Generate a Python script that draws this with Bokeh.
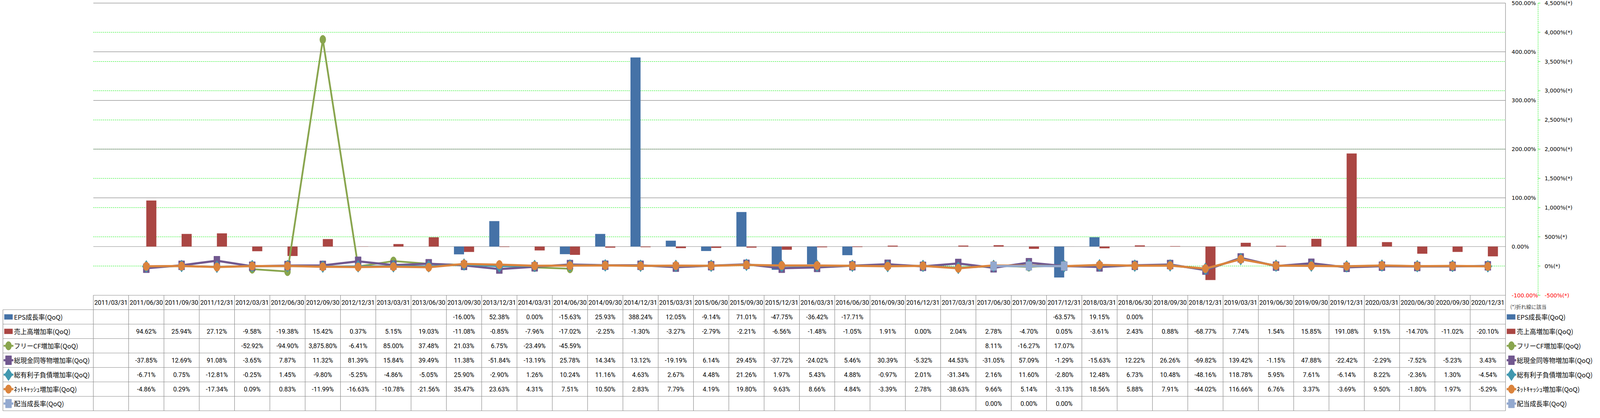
import numpy as np
from bokeh.plotting import figure
from bokeh.models import Range1d, ColumnDataSource
from bokeh.core.properties import value
from bokeh.embed import file_html
from bokeh.resources import INLINE

# ---------------- data ----------------
dates = ["2011/03/31", "2011/06/30", "2011/09/30", "2011/12/31",
         "2012/03/31", "2012/06/30", "2012/09/30", "2012/12/31",
         "2013/03/31", "2013/06/30", "2013/09/30", "2013/12/31",
         "2014/03/31", "2014/06/30", "2014/09/30", "2014/12/31",
         "2015/03/31", "2015/06/30", "2015/09/30", "2015/12/31",
         "2016/03/31", "2016/06/30", "2016/09/30", "2016/12/31",
         "2017/03/31", "2017/06/30", "2017/09/30", "2017/12/31",
         "2018/03/31", "2018/06/30", "2018/09/30", "2018/12/31",
         "2019/03/31", "2019/06/30", "2019/09/30", "2019/12/31",
         "2020/03/31", "2020/06/30", "2020/09/30", "2020/12/31"]

eps = [None, None, None, None, None, None, None, None, None, None,
       -16.00, 52.38, 0.00, -15.63, 25.93, 388.24, 12.05, -9.14, 71.01, -47.75,
       -36.42, -17.71, None, None, None, None, None, -63.57, 19.15, 0.00,
       None, None, None, None, None, None, None, None, None, None]

sales = [None, 94.62, 25.94, 27.12, -9.58, -19.38, 15.42, 0.37, 5.15, 19.03,
         -11.08, -0.85, -7.96, -17.02, -2.25, -1.30, -3.27, -2.79, -2.21, -6.56,
         -1.48, -1.05, 1.91, 0.00, 2.04, 2.78, -4.70, 0.05, -3.61, 2.43,
         0.88, -68.77, 7.74, 1.54, 15.85, 191.08, 9.15, -14.70, -11.02, -20.10]

fcf = [None, None, None, None, -52.92, -94.90, 3875.80, -6.41, 85.00, 37.48,
       21.03, 6.75, -23.49, -45.59, None, None, None, None, None, None,
       None, None, None, None, None, 8.11, -16.27, 17.07, None, None,
       None, None, None, None, None, None, None, None, None, None]

cash = [None, -37.85, 12.69, 91.08, -3.65, 7.87, 11.32, 81.39, 15.84, 39.49,
        11.38, -51.84, -13.19, 25.78, 14.34, 13.12, -19.19, 6.14, 29.45, -37.72,
        -24.02, 5.46, 30.39, -5.32, 44.53, -31.05, 57.09, -1.29, -15.63, 12.22,
        26.26, -69.82, 139.42, -1.15, 47.88, -22.42, -2.29, -7.52, -5.23, 3.43]

debt = [None, -6.71, 0.75, -12.81, -0.25, 1.45, -9.80, -5.25, -4.86, -5.05,
        25.90, -2.90, 1.26, 10.24, 11.16, 4.63, 2.67, 4.48, 21.26, 1.97,
        5.43, 4.88, -0.97, 2.01, -31.34, 2.16, 11.60, -2.80, 12.48, 6.73,
        10.48, -48.16, 118.78, 5.95, 7.61, -6.14, 8.22, -2.36, 1.30, -4.54]

netcash = [None, -4.86, 0.29, -17.34, 0.09, 0.83, -11.99, -16.63, -10.78, -21.56,
           35.47, 23.63, 4.31, 7.51, 10.50, 2.83, 7.79, 4.19, 19.80, 9.63,
           8.66, 4.84, -3.39, 2.78, -38.63, 9.66, 5.14, -3.13, 18.56, 5.88,
           7.91, -44.02, 116.66, 6.76, 3.37, -3.69, 9.50, -1.80, 1.97, -5.29]

dividend = [None, None, None, None, None, None, None, None, None, None,
            None, None, None, None, None, None, None, None, None, None,
            None, None, None, None, None, 0.00, 0.00, 0.00, None, None,
            None, None, None, None, None, None, None, None, None, None]

series_names = ["EPS成長率(QoQ)", "売上高増加率(QoQ)", "フリーCF増加率(QoQ)",
                "総現金同等物増加率(QoQ)", "総有利子負債増加率(QoQ)",
                "ﾈｯﾄｷｬｯｼｭ増加率(QoQ)", "配当成長率(QoQ)"]

main_ticks = [-100, 0, 100, 200, 300, 400, 500]
main_tick_labels = ["-100.00%", "0.00%", "100.00%", "200.00%", "300.00%", "400.00%", "500.00%"]
sec_ticks = [-500, 0, 500, 1000, 1500, 2000, 2500, 3000, 3500, 4000, 4500]
sec_tick_labels = ["-500%(*)", "0%(*)", "500%(*)", "1,000%(*)", "1,500%(*)", "2,000%(*)",
                   "2,500%(*)", "3,000%(*)", "3,500%(*)", "4,000%(*)", "4,500%(*)"]
note_text = "(*)折れ線に該当"

# ---------------- styles / layout ----------------
C_EPS, C_SALES = "#4572A7", "#AA4643"
C_FCF, C_CASH, C_DEBT, C_NET, C_DIV = "#89A54E", "#71588F", "#4198AF", "#DB843D", "#93A9CF"
GRID_GRAY = "#878787"
TABLE_GRAY = "#8C8C8C"
GREEN = "#00EE00"

# the page is shown 4096 px wide: map reference layout horizontally
K = 4096.0 / 5877.0


def fx(X):
    return X * K - 8.0


def fy(Y):
    return Y - 8.0


W, H = 4080, 1055
PL, PR = fx(353.6), fx(5540.67)   # plot frame left / right (canvas px)
PT, PB = fy(15.42), fy(764.0)     # y of 500% and -100% (canvas px)
N = len(dates)
UPX = (PR - PL) / N


def ux(px):
    return (px - PL) / UPX


MAIN_LO, MAIN_HI = -100.0, 500.0
SEC_LO, SEC_HI = -500.0, 4500.0
mppu = (PB - PT) / (MAIN_HI - MAIN_LO)
sppu = (PB - PT) / (SEC_HI - SEC_LO)
TT, RH = PB, 37.0

p = figure(width=W, height=H,
           x_range=Range1d(ux(0), ux(W)),
           y_range=Range1d(MAIN_LO - (H - PB) / mppu, MAIN_HI + PT / mppu),
           output_backend="svg", toolbar_location=None, min_border=0,
           x_axis_location=None, y_axis_location=None)
p.outline_line_color = None
p.background_fill_color = "white"
p.border_fill_color = "white"
p.grid.visible = False
p.extra_y_ranges = {
    "sec": Range1d(SEC_LO - (H - PB) / sppu, SEC_HI + PT / sppu),
    "tbl": Range1d(start=(H - TT) / RH, end=(0 - TT) / RH),
}


def arr(a):
    return np.array([np.nan if v is None else v for v in a], dtype=float)


idx = np.arange(N) + 0.5

# ---------------- gridlines ----------------
sec_grid = [t for t in sec_ticks if SEC_LO < t < SEC_HI]
p.segment(x0=0, x1=N, y0=sec_grid, y1=sec_grid, y_range_name="sec",
          line_color=GREEN, line_width=1, line_dash="3 2")
main_grid = [t for t in main_ticks if t > MAIN_LO]
p.segment(x0=0, x1=N, y0=main_grid, y1=main_grid, line_color=GRID_GRAY, line_width=1.2)
p.segment(x0=N, x1=N, y0=MAIN_LO, y1=MAIN_HI, line_color=GRID_GRAY, line_width=1.2)

# secondary axis line and ticks
ax2 = ux(fx(5660.3))
p.segment(x0=ax2, x1=ax2, y0=SEC_LO, y1=SEC_HI, y_range_name="sec",
          line_color=GREEN, line_width=1, line_dash="3 2")
p.segment(x0=ax2, x1=ux(fx(5668.7)), y0=sec_ticks, y1=sec_ticks, y_range_name="sec",
          line_color=GREEN, line_width=1)

# axis labels
AX_FONT = value("DejaVu Sans")
p.text(x=ux(fx(5563.3)), y=main_ticks, text=main_tick_labels,
       text_color=["#FF0000" if t == MAIN_LO else "#000000" for t in main_ticks],
       text_font=AX_FONT, text_font_size="14px", text_align="left", text_baseline="middle")
p.text(x=ux(fx(5684.3)), y=sec_ticks, text=sec_tick_labels, y_range_name="sec",
       text_color=["#FF0000" if t == SEC_LO else "#000000" for t in sec_ticks],
       text_font=AX_FONT, text_font_size="14px", text_align="left", text_baseline="middle")

# ---------------- bars ----------------
bw = 37.0 * K / UPX
p.vbar(x=idx - bw / 2, width=bw, top=arr(eps), bottom=0, fill_color=C_EPS, line_color=None)
p.vbar(x=idx + bw / 2, width=bw, top=arr(sales), bottom=0, fill_color=C_SALES, line_color=None)

# ---------------- lines ----------------
# (values, colour, marker kind, marker width px, marker height px, line width)
line_specs = [
    (fcf, C_FCF, "ellipse", 22 * K, 22, 4.5),
    (cash, C_CASH, "rect", 22 * K, 23, 5.5),
    (debt, C_DEBT, "diamond", 30 * K, 31, 5.0),
    (netcash, C_NET, "ellipse", 23 * K, 22, 5.5),
    (dividend, C_DIV, "rect", 22 * K, 22, 5.5),
]


def draw_marker(x, y, kind, mw, mh, col, rng):
    if kind == "ellipse":
        p.ellipse(x=x, y=y, width=mw, height=mh, width_units="screen", height_units="screen",
                  y_range_name=rng, fill_color=col, line_color=col)
    elif kind == "rect":
        p.rect(x=x, y=y, width=mw, height=mh, width_units="screen", height_units="screen",
               y_range_name=rng, fill_color=col, line_color=col)
    else:
        p.scatter(x=x, y=y, marker="diamond", size=mh, y_range_name=rng,
                  fill_color=col, line_color=col)


for vals, col, mk, mw, mh, lw in line_specs:
    y = arr(vals)
    p.line(x=idx, y=y, y_range_name="sec", line_color=col, line_width=lw)
    ok = ~np.isnan(y)
    draw_marker(idx[ok], y[ok], mk, mw, mh, col, "sec")

# ---------------- data table ----------------
xl = ux(fx(21.5))
p.segment(x0=0, x1=N, y0=0, y1=0, y_range_name="tbl", line_color=TABLE_GRAY, line_width=1.2)
rows_y = list(range(1, 9))
p.segment(x0=xl, x1=N, y0=rows_y, y1=rows_y, y_range_name="tbl", line_color=TABLE_GRAY, line_width=1.2)
cols_x = list(range(0, N + 1))
p.segment(x0=cols_x, x1=cols_x, y0=0, y1=8, y_range_name="tbl", line_color=TABLE_GRAY, line_width=1.2)
p.segment(x0=xl, x1=xl, y0=1, y1=8, y_range_name="tbl", line_color=TABLE_GRAY, line_width=1.2)

NUM_FONT = value("Roboto")
JP_FONT = value("Noto Sans CJK JP")
p.text(x=idx, y=0.5, text=dates, y_range_name="tbl", text_font=NUM_FONT,
       text_font_size="16px", text_align="center", text_baseline="middle", text_color="#000000")


def fmt(v):
    return "" if v is None else f"{v:,.2f}%"


table_series = [eps, sales, fcf, cash, debt, netcash, dividend]
for r, vals in enumerate(table_series):
    src = ColumnDataSource(dict(x=idx, y=np.full(N, r + 1.5), t=[fmt(v) for v in vals]))
    p.text(x="x", y="y", text="t", source=src, y_range_name="tbl", text_font=NUM_FONT,
           text_font_size="16px", text_align="center", text_baseline="middle", text_color="#000000")

# ---------------- legends (left in table, right beside table) ----------------
legend_kinds = [("bar", C_EPS), ("bar", C_SALES)] + [("line", s) for s in line_specs]


def draw_legend(sw_l, sw_r, ln_l, ln_r, text_x):
    cx = ux((sw_l + sw_r) / 2)
    for r, (name, (kind, spec)) in enumerate(zip(series_names, legend_kinds)):
        yy = r + 1.5
        if kind == "bar":
            p.rect(x=cx, y=yy, width=sw_r - sw_l, height=13.5, width_units="screen",
                   height_units="screen", y_range_name="tbl", fill_color=spec, line_color=None)
        else:
            _, col, mk, mw, mh, lw = spec
            p.segment(x0=ux(ln_l), x1=ux(ln_r), y0=yy, y1=yy, y_range_name="tbl",
                      line_color=col, line_width=lw)
            draw_marker([ux((ln_l + ln_r) / 2)], [yy], mk, mw, mh, col, "tbl")
        p.text(x=ux(text_x), y=yy, text=[name], y_range_name="tbl", text_font=JP_FONT,
               text_font_size="16.5px", text_align="left", text_baseline="middle", text_color="#000000")


draw_legend(fx(26.3), fx(57.4), fx(24), fx(60), fx(62))
draw_legend(fx(5545.3), fx(5576.9), fx(5545), fx(5580), fx(5582))

p.text(x=ux(fx(5558)), y=(fy(793) - TT) / RH, text=[note_text], y_range_name="tbl", text_font=JP_FONT,
       text_font_size="13px", text_align="left", text_baseline="middle", text_color="#404040")

open("out.html", "w").write(file_html(p, INLINE))
